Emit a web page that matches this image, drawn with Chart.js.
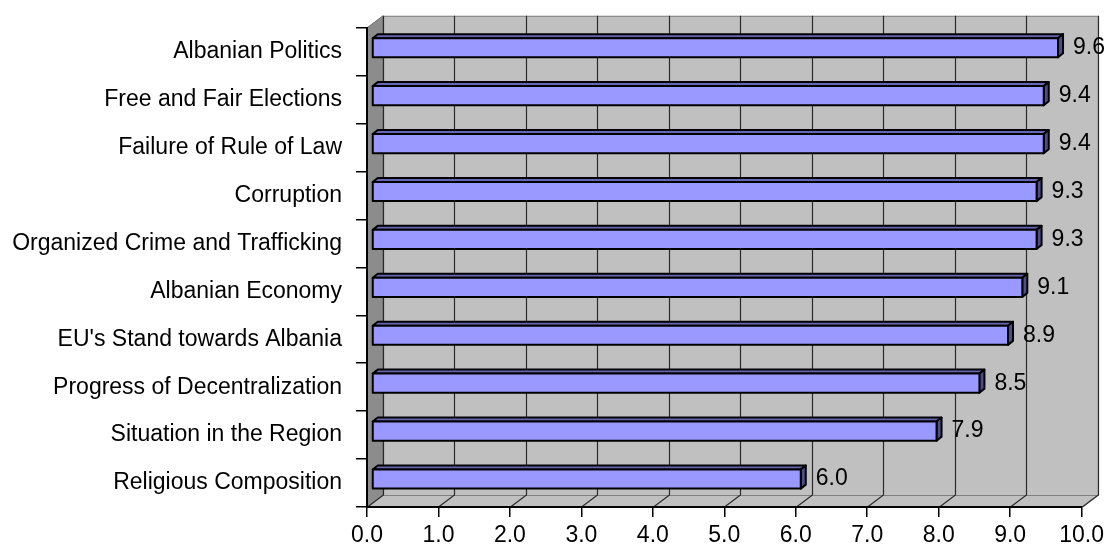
<!DOCTYPE html>
<html>
<head>
<meta charset="utf-8">
<script src="https://cdn.jsdelivr.net/npm/chart.js@4.4.1/dist/chart.umd.min.js"></script>
<style>
  html, body { margin: 0; padding: 0; background: #fff; }
  #wrap { width: 1109px; height: 546px; }
</style>
</head>
<body>
<div id="wrap"><canvas id="issuesChart" width="1109" height="546"></canvas></div>
<script>
const categories = [
  "Albanian Politics",
  "Free and Fair Elections",
  "Failure of Rule of Law",
  "Corruption",
  "Organized Crime and Trafficking",
  "Albanian Economy",
  "EU's Stand towards Albania",
  "Progress of Decentralization",
  "Situation in the Region",
  "Religious Composition"
];
const scores = [9.6, 9.4, 9.4, 9.3, 9.3, 9.1, 8.9, 8.5, 7.9, 6.0];

const scaleMin = 0;
const scaleMax = 10;
const scaleStep = 1;

const FONT = '"Liberation Sans", Arial, sans-serif';
const FONT_SIZE = 23;

// depth of the walls, and where the bars sit inside that depth
const WALL = { x: 16, y: 12 };
const BAR_FRONT = { x: 5, y: 4 };
const BAR_DEPTH = { x: 5, y: 4 };

function poly(ctx, pts) {
  ctx.beginPath();
  ctx.moveTo(pts[0][0], pts[0][1]);
  for (let i = 1; i < pts.length; i++) ctx.lineTo(pts[i][0], pts[i][1]);
  ctx.closePath();
}

const walls = {
  id: "walls",
  beforeDraw(chart) {
    const ctx = chart.ctx;
    const a = chart.chartArea;
    const dx = WALL.x, dy = WALL.y;
    ctx.save();

    // side wall
    poly(ctx, [[a.left, a.top], [a.left + dx, a.top - dy], [a.left + dx, a.bottom - dy], [a.left, a.bottom]]);
    ctx.fillStyle = "#8c8c8c";
    ctx.fill();
    ctx.strokeStyle = "#707070";
    ctx.lineWidth = 1;
    ctx.stroke();

    // floor
    poly(ctx, [[a.left, a.bottom], [a.right, a.bottom], [a.right + dx, a.bottom - dy], [a.left + dx, a.bottom - dy]]);
    ctx.fillStyle = "#c0c0c0";
    ctx.fill();
    ctx.strokeStyle = "#808080";
    ctx.stroke();

    // back wall
    ctx.fillStyle = "#c0c0c0";
    ctx.fillRect(a.left + dx, a.top - dy, a.right - a.left, a.bottom - a.top);
    ctx.strokeStyle = "#808080";
    ctx.strokeRect(a.left + dx + 0.5, a.top - dy + 0.5, a.right - a.left, a.bottom - a.top);

    // value gridlines up the back wall and across the floor
    const xs = chart.scales.x;
    ctx.strokeStyle = "#2a2a2a";
    ctx.lineWidth = 1.2;
    xs.ticks.forEach(t => {
      const px = Math.round(xs.getPixelForValue(t.value)) + 0.5;
      ctx.beginPath();
      ctx.moveTo(px + dx, a.top - dy);
      ctx.lineTo(px + dx, a.bottom - dy);
      ctx.lineTo(px, a.bottom);
      ctx.stroke();
    });
    ctx.restore();
  }
};

const bars3d = {
  id: "bars3d",
  afterDatasetsDraw(chart) {
    const ctx = chart.ctx;
    const meta = chart.getDatasetMeta(0);
    const values = chart.data.datasets[0].data;
    ctx.save();
    ctx.lineWidth = 2;
    ctx.lineJoin = "round";
    ctx.strokeStyle = "#000";
    meta.data.forEach((bar, i) => {
      const p = bar.getProps(["x", "y", "base", "height"], true);
      const x0 = p.base + BAR_FRONT.x;
      const x1 = p.x + BAR_FRONT.x;
      const top = p.y - p.height / 2 - BAR_FRONT.y;
      const bot = p.y + p.height / 2 - BAR_FRONT.y;
      const bx = BAR_DEPTH.x, by = BAR_DEPTH.y;

      // top face
      poly(ctx, [[x0, top], [x1, top], [x1 + bx, top - by], [x0 + bx, top - by]]);
      ctx.fillStyle = "#6666b3";
      ctx.fill();
      ctx.stroke();

      // end face
      poly(ctx, [[x1, top], [x1 + bx, top - by], [x1 + bx, bot - by], [x1, bot]]);
      ctx.fillStyle = "#4d4d88";
      ctx.fill();
      ctx.stroke();

      // front face
      poly(ctx, [[x0, top], [x1, top], [x1, bot], [x0, bot]]);
      ctx.fillStyle = "#9999ff";
      ctx.fill();
      ctx.stroke();

      ctx.fillStyle = "#000";
      ctx.font = FONT_SIZE + "px " + FONT;
      ctx.textAlign = "left";
      ctx.textBaseline = "middle";
      ctx.fillText(values[i].toFixed(1), x1 + bx + 10, (top + bot) / 2);
    });
    ctx.restore();
  }
};

new Chart(document.getElementById("issuesChart"), {
  type: "bar",
  data: {
    labels: categories,
    datasets: [{
      data: scores,
      backgroundColor: "rgba(0,0,0,0)",
      borderWidth: 0,
      barPercentage: 0.4,
      categoryPercentage: 1
    }]
  },
  options: {
    indexAxis: "y",
    responsive: false,
    animation: false,
    devicePixelRatio: 1,
    layout: { padding: { top: 25, right: 24, bottom: 0, left: 0 } },
    plugins: {
      legend: { display: false },
      tooltip: { enabled: false }
    },
    scales: {
      x: {
        min: scaleMin,
        max: scaleMax,
        afterFit(scale) { scale.height = 39; },
        ticks: {
          stepSize: scaleStep,
          callback: v => v.toFixed(1),
          color: "#000",
          font: { size: FONT_SIZE, family: FONT },
          padding: 5,
          maxRotation: 0
        },
        grid: { drawOnChartArea: false, tickLength: 10, color: "#000", lineWidth: 1.5 },
        border: { color: "#000", width: 2 }
      },
      y: {
        afterFit(scale) { scale.width = 367; },
        ticks: {
          color: "#000",
          font: { size: FONT_SIZE, family: FONT },
          padding: 14
        },
        grid: { offset: true, drawOnChartArea: false, tickLength: 11, color: "#000", lineWidth: 1.5 },
        border: { color: "#000", width: 2 }
      }
    }
  },
  plugins: [walls, bars3d]
});
</script>
</body>
</html>
